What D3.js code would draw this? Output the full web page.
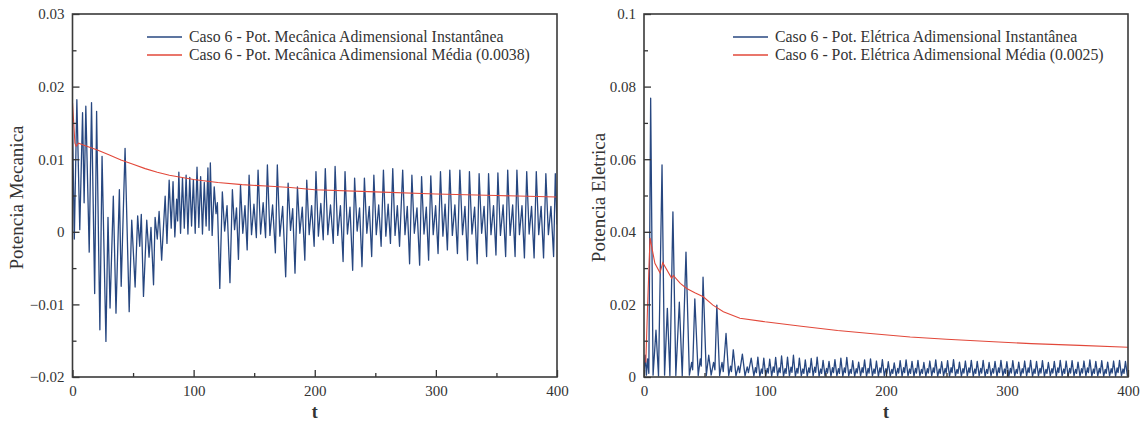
<!DOCTYPE html>
<html>
<head>
	<meta charset="utf-8">
	<title>Caso 6 - Potencias</title>
	<script src="https://cdnjs.cloudflare.com/ajax/libs/d3/7.8.5/d3.min.js"></script>
	<style>
		body { margin: 0; background: #fff; }
		svg { display: block; }
		svg text { font-family: "Liberation Serif", "Times New Roman", serif; }
		.tick text { font-size: 15px; fill: #333; }
		.domain { display: none; }
	</style>
</head>
<body>
	<svg id="chart" width="1148" height="429"></svg>
	<script>
		// ---- data ----
		var xTicks = [0, 100, 200, 300, 400];
		var xMinor = [50, 150, 250, 350];

		var mecYTicks = [-0.02, -0.01, 0, 0.01, 0.02, 0.03];
		var mecYLabels = ["\u22120.02", "\u22120.01", "0", "0.01", "0.02", "0.03"];
		var mecYMinor = [-0.015, -0.005, 0.005, 0.015, 0.025];

		var eleYTicks = [0, 0.02, 0.04, 0.06, 0.08, 0.1];
		var eleYLabels = ["0", "0.02", "0.04", "0.06", "0.08", "0.1"];
		var eleYMinor = [0.01, 0.03, 0.05, 0.07, 0.09];

		var mecLegend = ["Caso 6 - Pot. Mecânica Adimensional Instantânea", "Caso 6 - Pot. Mecânica Adimensional Média (0.0038)"];
		var eleLegend = ["Caso 6 - Pot. Elétrica Adimensional Instantânea", "Caso 6 - Pot. Elétrica Adimensional Média (0.0025)"];

		// [t, valor]
		var mecInst = [
			[0,0.015],[1.5,-0.001],[3.6,0.0182],[6,0.0003],[8.3,0.0164],[9.6,0.004],[11,0.0173],[13.8,-0.0028],
			[15.7,0.0178],[18.3,-0.0085],[19.9,0.0166],[22.6,-0.0135],[24.4,0.0104],[27.6,-0.0151],[29.3,0.002],
			[31,-0.0105],[33.7,0.0049],[35.9,-0.0112],[38.7,0.0058],[40.2,-0.0075],[43.4,0.0115],[46.8,-0.011],
			[48.9,0.0016],[51.7,-0.0076],[53.8,0.0022],[55.5,-0.002],[56.8,0.0024],[58.6,-0.0089],[61.3,0.0016],
			[63.2,-0.0035],[64.8,0.0006],[66.9,-0.0073],[68.2,0.002],[70,-0.001],[71.5,0.0028],[73.6,-0.0039],
			[76.5,0.0049],[78,-0.0016],[79.8,0.0071],[81.5,0.0005],[83,0.0069],[84.5,-0.0007],[86,0.0045],
			[86.8,0.0015],[87.8,0.0082],[89.2,-0.0002],[90.8,0.0074],[92.3,0.0005],[93.8,0.0078],[95.3,-0.0003],
			[96.8,0.0075],[98.3,0.0008],[99.8,0.0072],[101.3,-0.0002],[102.8,0.0089],[104.3,0.0006],[105.8,0.0076],
			[107.3,-0.0003],[108.8,0.0068],[110.3,0.0008],[111.8,0.0088],[112.8,0.0002],[113.8,0.0095],
			[115.3,-0.0005],[117,0.0062],[118.5,0.0025],[119.6,0.004],
			[121.6,-0.0078],[123.7,0.0055],[125.6,0.0001],[127.6,0.0036],
			[130,-0.007],[132,0.0058],[133.8,0.0003],[135.4,0.0033],
			[137,-0.0038],[138.7,0.0064],[140.6,-0.0002],[142.4,0.0036],
			[144.2,-0.0025],[145.8,0.0078],[147.8,-0.0004],[149.8,0.0038],
			[151.8,-0.0008],[153.2,0.0085],[155.3,-0.0003],[157.4,0.004],
			[159.4,-0.0008],[160.9,0.0092],[163,-0.0005],[165.2,0.0037],
			[167.5,-0.0029],[169.1,0.0092],[171.2,-0.0006],[173.5,0.0035],
			[176,-0.0062],[178,0.0067],[180,0.0002],[181.8,0.0032],
			[183.7,-0.0057],[185.7,0.0062],[187.7,-0.0002],[189.7,0.0034],
			[191.8,-0.0039],[193.4,0.0071],[195.4,-0.0004],[197.4,0.0036],
			[199.5,-0.002],[201,0.0083],[203,-0.0006],[205,0.0039],
			[207,-0.0011],[208.7,0.0087],[210.8,-0.0004],[213,0.0037],
			[215.3,-0.0016],[216.8,0.009],[219,-0.0005],[221.2,0.0036],
			[223.4,-0.0041],[225,0.0083],[227,-0.0003],[229.1,0.0034],
			[231.3,-0.0053],[232.9,0.0074],[235,0.0001],[237,0.0033],
			[239,-0.0048],[241,0.0074],[243,-0.0002],[245,0.0035],
			[247,-0.0034],[248.8,0.0078],[250.8,-0.0004],[252.8,0.0037],
			[254.8,-0.002],[256.7,0.0085],[258.7,-0.0006],[260.6,0.0038],
			[262.5,-0.0016],[264.4,0.0087],[266.3,-0.0005],[268.2,0.0036],
			[270,-0.002],[272.6,0.0085],[274.5,-0.0004],[276.4,0.0035],
			[278.3,-0.0044],[280.2,0.0078],[282.2,-0.0002],[284.4,0.0033],
			[286.6,-0.0046],[288.2,0.0076],[290.2,-0.0003],[292.1,0.0034],
			[294,-0.0039],[295.8,0.0077],[297.8,-0.0004],[299.8,0.0036],
			[301.8,-0.003],[303.8,0.0083],[305.8,-0.0006],[307.6,0.0038],
			[309.5,-0.0025],[311.5,0.0085],[313.6,-0.0005],[315.7,0.0037],
			[317.8,-0.003],[319.8,0.0085],[322,-0.0004],[324,0.0035],
			[326.1,-0.0039],[327.7,0.0083],[329.8,-0.0003],[332,0.0034],
			[334.1,-0.0044],[335.7,0.008],[337.8,-0.0002],[339.8,0.0035],
			[341.9,-0.0034],[343.5,0.008],[345.5,-0.0004],[347.6,0.0036],
			[349.6,-0.0032],[351.2,0.0081],[353.3,-0.0005],[355.5,0.0037],
			[357.6,-0.0034],[359.3,0.0085],[361.3,-0.0005],[363.4,0.0037],
			[365.4,-0.0034],[366.9,0.0085],[369,-0.0004],[371.1,0.0036],
			[373.1,-0.0036],[375,0.0083],[377,-0.0003],[379,0.0035],
			[381.1,-0.0036],[382.9,0.0083],[384.9,-0.0004],[386.9,0.0035],
			[388.9,-0.0036],[390.8,0.008],[392.9,-0.0004],[395,0.0035],
			[397.2,-0.0034],[398.6,0.008],[400,0.001]
		];

		var mecMean = [
			[0,0.0178],[1,0.015],[2,0.0122],[3,0.0118],[5,0.0122],[10,0.0119],[20,0.0113],[30,0.0106],
			[40,0.0099],[50,0.0093],[60,0.0087],[70,0.0082],[80,0.0078],[100,0.0072],[120,0.0068],
			[140,0.0065],[160,0.0063],[180,0.0061],[200,0.0058],[250,0.0055],[300,0.0052],[350,0.005],[400,0.0048]
		];

		var eleInst = [
			[0,0.001],[1,0.006],[2,0.0005],[3,0.005],[4,0.001],[5.5,0.0768],[7.5,0.0005],[9.9,0.0129],[12,0.0003],
			[14.9,0.0584],[17,0.0005],[19.3,0.0189],[21.4,0.0004],[23.9,0.0455],[26.3,0.0004],[29.2,0.0206],
			[31.6,0.0003],[34.7,0.0344],[37.5,0.0005],[39.4,0.004],[40.2,0.002],[42,0.0215],[44.8,0.0004],
			[46.5,0.005],[47.3,0.003],[48.8,0.0275],[51.5,0.0004],[53.5,0.006],[55.5,0.0005],[57.5,0.004],
			[58.6,0.002],[60.2,0.0198],[62.5,0.0004],[64.5,0.004],[65.5,0.0015],[67.8,0.012],[70,0.0004],
			[71.5,0.003],[72.3,0.0015],[73.8,0.0075],[76,0.0003],[78,0.003],[79,0.0012],[81.3,0.0063],
			[83.5,0.0003],[85.3,0.0028],[86.3,0.0012],[88.6,0.0052],
			[90.8,0.0003],[92.1,0.0026],[92.9,0.0012],[94.1,0.0055],
			[95.7,0.0002],[97.0,0.0022],[97.8,0.001],[99.0,0.0052],
			[100.6,0.0003],[101.9,0.0024],[102.7,0.0011],[103.9,0.0049],
			[105.5,0.0002],[106.8,0.0028],[107.6,0.0013],[108.8,0.0054],
			[110.4,0.0003],[111.7,0.0025],[112.5,0.0012],[113.7,0.0058],
			[115.3,0.0002],[116.6,0.0023],[117.4,0.001],[118.6,0.0055],
			[120.2,0.0003],[121.5,0.0027],[122.3,0.0013],[123.5,0.006],
			[125.1,0.0002],[126.4,0.0024],[127.2,0.0011],[128.4,0.0052],
			[130.0,0.0003],[131.3,0.0022],[132.1,0.001],[133.3,0.0047],
			[134.9,0.0002],[136.2,0.0025],[137.0,0.0012],[138.2,0.0051],
			[139.8,0.0003],[141.1,0.0027],[141.9,0.0013],[143.1,0.0055],
			[144.7,0.0002],[146.0,0.0022],[146.8,0.001],[148.0,0.0046],
			[149.6,0.0003],[150.9,0.0024],[151.7,0.0011],[152.9,0.0043],
			[154.5,0.0002],[155.8,0.0026],[156.6,0.0012],[157.8,0.0048],
			[159.4,0.0003],[160.7,0.0023],[161.5,0.001],[162.7,0.0052],
			[164.3,0.0002],[165.6,0.0025],[166.4,0.0012],[167.6,0.0054],
			[169.2,0.0003],[170.5,0.0021],[171.3,0.001],[172.5,0.0045],
			[174.1,0.0002],[175.4,0.0023],[176.2,0.0011],[177.4,0.0041],
			[179.0,0.0003],[180.3,0.0026],[181.1,0.0012],[182.3,0.0047],
			[183.9,0.0002],[185.2,0.0024],[186.0,0.0011],[187.2,0.005],
			[188.8,0.0003],[190.1,0.0022],[190.9,0.001],[192.1,0.0044],
			[193.7,0.0002],[195.0,0.0025],[195.8,0.0012],[197.0,0.0048],
			[198.6,0.0003],[199.9,0.0023],[200.7,0.001],[201.9,0.0042],
			[203.5,0.0002],[204.8,0.0021],[205.6,0.001],[206.8,0.0039],
			[208.4,0.0003],[209.7,0.0024],[210.5,0.0011],[211.7,0.0045],
			[213.3,0.0002],[214.6,0.0026],[215.4,0.0012],[216.6,0.0047],
			[218.2,0.0003],[219.5,0.0022],[220.3,0.001],[221.5,0.0043],
			[223.1,0.0002],[224.4,0.0024],[225.2,0.0011],[226.4,0.0046],
			[228.0,0.0003],[229.3,0.0021],[230.1,0.001],[231.3,0.004],
			[232.9,0.0002],[234.2,0.0023],[235.0,0.0011],[236.2,0.0044],
			[237.8,0.0003],[239.1,0.0025],[239.9,0.0012],[241.1,0.0047],
			[242.7,0.0002],[244.0,0.0022],[244.8,0.001],[246.0,0.0042],
			[247.6,0.0003],[248.9,0.0024],[249.7,0.0011],[250.9,0.0045],
			[252.5,0.0002],[253.8,0.0026],[254.6,0.0012],[255.8,0.0048],
			[257.4,0.0003],[258.7,0.0021],[259.5,0.001],[260.7,0.0041],
			[262.3,0.0002],[263.6,0.0023],[264.4,0.0011],[265.6,0.0044],
			[267.2,0.0003],[268.5,0.0025],[269.3,0.0012],[270.5,0.0046],
			[272.1,0.0002],[273.4,0.0022],[274.2,0.001],[275.4,0.0043],
			[277.0,0.0003],[278.3,0.0024],[279.1,0.0011],[280.3,0.0046],
			[281.9,0.0002],[283.2,0.0021],[284.0,0.001],[285.2,0.004],
			[286.8,0.0003],[288.1,0.0023],[288.9,0.0011],[290.1,0.0043],
			[291.7,0.0002],[293.0,0.0025],[293.8,0.0012],[295.0,0.0046],
			[296.6,0.0003],[297.9,0.0022],[298.7,0.001],[299.9,0.0042],
			[301.5,0.0002],[302.8,0.0024],[303.6,0.0011],[304.8,0.0045],
			[306.4,0.0003],[307.7,0.0021],[308.5,0.001],[309.7,0.0041],
			[311.3,0.0002],[312.6,0.0023],[313.4,0.0011],[314.6,0.0044],
			[316.2,0.0003],[317.5,0.0025],[318.3,0.0012],[319.5,0.0046],
			[321.1,0.0002],[322.4,0.0022],[323.2,0.001],[324.4,0.0043],
			[326.0,0.0003],[327.3,0.0024],[328.1,0.0011],[329.3,0.0045],
			[330.9,0.0002],[332.2,0.0021],[333.0,0.001],[334.2,0.004],
			[335.8,0.0003],[337.1,0.0023],[337.9,0.0011],[339.1,0.0043],
			[340.7,0.0002],[342.0,0.0025],[342.8,0.0012],[344.0,0.0046],
			[345.6,0.0003],[346.9,0.0022],[347.7,0.001],[348.9,0.0044],
			[350.5,0.0002],[351.8,0.0024],[352.6,0.0011],[353.8,0.0045],
			[355.4,0.0003],[356.7,0.0021],[357.5,0.001],[358.7,0.0041],
			[360.3,0.0002],[361.6,0.0023],[362.4,0.0011],[363.6,0.0044],
			[365.2,0.0003],[366.5,0.0025],[367.3,0.0012],[368.5,0.0047],
			[370.1,0.0002],[371.4,0.0022],[372.2,0.001],[373.4,0.0043],
			[375.0,0.0003],[376.3,0.0024],[377.1,0.0011],[378.3,0.0045],
			[379.9,0.0002],[381.2,0.0021],[382.0,0.001],[383.2,0.0041],
			[384.8,0.0003],[386.1,0.0023],[386.9,0.0011],[388.1,0.0044],
			[389.7,0.0002],[391.0,0.0025],[391.8,0.0012],[393.0,0.0046],
			[394.6,0.0003],[395.9,0.0022],[396.7,0.001],[397.9,0.0043],
			[399.5,0.0003],[400,0.001]
		];

		var eleMean = [
			[1.5,0.004],[3,0.02],[5,0.0383],[9,0.0313],[13.2,0.0287],[15.5,0.0315],[22.9,0.0272],[24.2,0.028],
			[30,0.0258],[35.3,0.0244],[42,0.0232],[49,0.0221],[57,0.0198],[65.6,0.018],[79.3,0.0162],[100,0.0152],
			[130,0.014],[160,0.0128],[187,0.012],[220,0.011],[250,0.0104],[289,0.0097],[320,0.0092],[360,0.0087],[400,0.0082]
		];

		var blue = "#274780", red = "#e2483a";
		var serif = "'Liberation Serif', 'Times New Roman', serif";
		var svg = d3.select("#chart");

		function drawPanel(p) {
			var x = d3.scaleLinear().domain([0, 400]).range([p.left, p.right]);
			var y = d3.scaleLinear().domain(p.yDomain).range([p.bottom, p.top]);
			var g = svg.append("g");

			g.append("clipPath").attr("id", p.id + "clip")
				.append("rect")
				.attr("x", p.left).attr("y", p.top)
				.attr("width", p.right - p.left).attr("height", p.bottom - p.top);

			var line = d3.line().x(function(d) { return x(d[0]); }).y(function(d) { return y(d[1]); });
			var lines = g.append("g").attr("clip-path", "url(#" + p.id + "clip)");
			lines.append("path").attr("d", line(p.inst))
				.attr("fill", "none").attr("stroke", blue).attr("stroke-width", 1.3).attr("stroke-linejoin", "round");
			lines.append("path").attr("d", line(p.mean))
				.attr("fill", "none").attr("stroke", red).attr("stroke-width", 1.1);

			// axes (ticks point inward)
			var yLab = {};
			p.yTicks.forEach(function(t, i) { yLab[t] = p.yLabels[i]; });
			var axes = g.append("g");
			axes.append("g").attr("transform", "translate(" + p.left + ",0)")
				.call(d3.axisLeft(y).tickValues(p.yTicks).tickSize(-7).tickPadding(8)
					.tickFormat(function(d) { return yLab[d]; }));
			axes.append("g").attr("transform", "translate(" + p.left + ",0)")
				.call(d3.axisLeft(y).tickValues(p.yMinor).tickSize(-4).tickFormat(""));
			axes.append("g").attr("transform", "translate(0," + p.bottom + ")")
				.call(d3.axisBottom(x).tickValues(xTicks).tickSize(-7).tickPadding(8).tickFormat(d3.format("d")));
			axes.append("g").attr("transform", "translate(0," + p.bottom + ")")
				.call(d3.axisBottom(x).tickValues(xMinor).tickSize(-4).tickFormat(""));
			axes.selectAll("g").attr("font-family", serif).attr("font-size", 15);
			axes.selectAll(".tick line").attr("stroke", "#333").attr("stroke-width", 1.3);
			axes.selectAll(".tick text").attr("fill", "#333");

			g.append("rect")
				.attr("x", p.left).attr("y", p.top)
				.attr("width", p.right - p.left).attr("height", p.bottom - p.top)
				.attr("fill", "none").attr("stroke", "#3a3a3a").attr("stroke-width", 1.6);

			// titles
			g.append("text")
				.attr("x", (p.left + p.right) / 2).attr("y", 418)
				.attr("text-anchor", "middle").attr("font-family", serif)
				.attr("font-size", 18).attr("font-weight", "bold").attr("fill", "#333")
				.text("t");
			g.append("text")
				.attr("transform", "translate(" + p.yTitleX + "," + ((p.top + p.bottom) / 2 + 2) + ") rotate(-90)")
				.attr("text-anchor", "middle").attr("font-family", serif)
				.attr("font-size", 19).attr("fill", "#333")
				.text(p.yTitle);

			// legend
			var leg = g.append("g");
			[blue, red].forEach(function(c, i) {
				var ly = 37 + i * 18;
				leg.append("line")
					.attr("x1", p.legX).attr("x2", p.legX + 35)
					.attr("y1", ly).attr("y2", ly)
					.attr("stroke", c).attr("stroke-width", 1.3);
				leg.append("text")
					.attr("x", p.legX + 42).attr("y", ly + 5)
					.attr("font-family", serif).attr("font-size", 15.8).attr("fill", "#333")
					.text(p.legend[i]);
			});
		}

		drawPanel({
			id: "mec", left: 72.5, right: 557, top: 14, bottom: 377,
			yDomain: [-0.02, 0.03], yTicks: mecYTicks, yLabels: mecYLabels, yMinor: mecYMinor,
			inst: mecInst, mean: mecMean, yTitle: "Potencia Mecanica", yTitleX: 23,
			legend: mecLegend, legX: 147
		});
		drawPanel({
			id: "ele", left: 644, right: 1128, top: 14, bottom: 377,
			yDomain: [0, 0.1], yTicks: eleYTicks, yLabels: eleYLabels, yMinor: eleYMinor,
			inst: eleInst, mean: eleMean, yTitle: "Potencia Eletrica", yTitleX: 605,
			legend: eleLegend, legX: 733
		});
	</script>
</body>
</html>
